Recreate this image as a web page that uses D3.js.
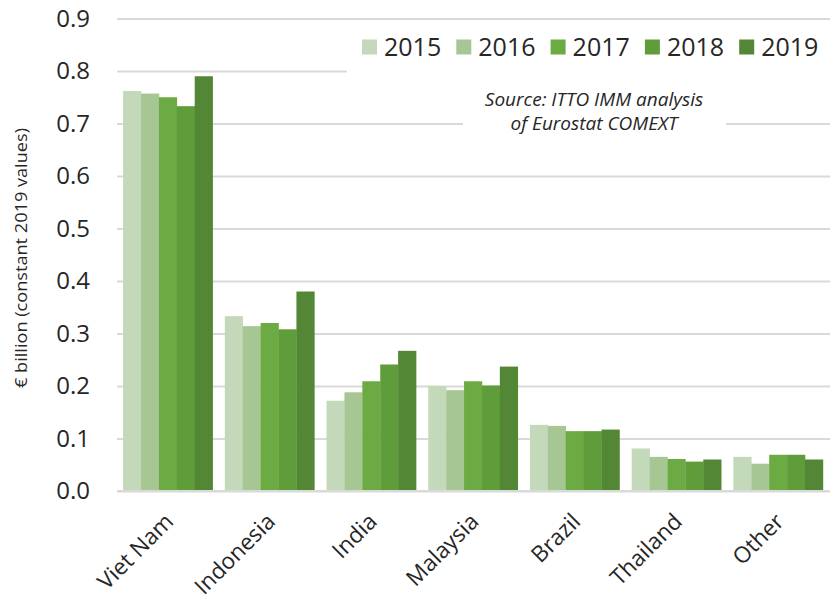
<!DOCTYPE html>
<html>
<head>
<meta charset="utf-8">
<script src="https://cdn.jsdelivr.net/npm/d3@7"></script>
<style>
  html, body { margin: 0; padding: 0; background: #fff; }
  svg { display: block; }
</style>
</head>
<body>
<svg id="chart" width="835" height="602"></svg>
<script>
const categories = ["Viet Nam", "Indonesia", "India", "Malaysia", "Brazil", "Thailand", "Other"];
const years = ["2015", "2016", "2017", "2018", "2019"];
const values2015 = [0.762, 0.333, 0.172, 0.200, 0.126, 0.081, 0.065];
const values2016 = [0.757, 0.314, 0.188, 0.192, 0.124, 0.065, 0.052];
const values2017 = [0.750, 0.320, 0.209, 0.209, 0.114, 0.061, 0.069];
const values2018 = [0.733, 0.308, 0.241, 0.201, 0.114, 0.056, 0.069];
const values2019 = [0.790, 0.380, 0.267, 0.237, 0.117, 0.060, 0.060];
const yTicks = [0, 0.1, 0.2, 0.3, 0.4, 0.5, 0.6, 0.7, 0.8, 0.9];
const colors = ["#c4d9ba", "#a6c793", "#6cab43", "#5f9d3b", "#548735"];
const yLabel = "€ billion (constant 2019 values)";
const sourceLines = ["Source: ITTO IMM analysis", "of Eurostat COMEXT"];

(function () {
const series = [values2015, values2016, values2017, values2018, values2019];
const data = categories.map((c, i) => ({ cat: c, vals: years.map((y, j) => ({ year: y, v: series[j][i], j })) }));

const svg = d3.select("#chart");
const pLeft = 117, pRight = 829, pTop = 18.5, pBottom = 491;
const font = "'Open Sans', sans-serif";
const textColor = "#262626";

const x0 = d3.scaleBand().domain(categories).range([pLeft, pRight]).paddingInner(0.12).paddingOuter(0.06);
const x1 = d3.scaleBand().domain(years).range([0, x0.bandwidth()]).padding(0);
const y = d3.scaleLinear().domain([0, 0.9]).range([pBottom, pTop]);

// gridlines
const yAxis = d3.axisLeft(y).tickValues(yTicks).tickSize(-(pRight - pLeft + 1)).tickFormat(d3.format(".1f"));
const gAxis = svg.append("g").attr("transform", `translate(${pLeft},0)`).call(yAxis);
gAxis.select(".domain").remove();
gAxis.selectAll(".tick line").attr("stroke", "#d9d9d9").attr("stroke-width", 2);
gAxis.selectAll(".tick text")
  .attr("x", -27).attr("font-family", font).attr("font-size", 24).attr("fill", textColor);

// bars
const groups = svg.append("g").selectAll("g").data(data).join("g")
  .attr("transform", d => `translate(${x0(d.cat)},0)`);
groups.selectAll("rect").data(d => d.vals).join("rect")
  .attr("x", d => x1(d.year))
  .attr("width", x1.bandwidth() + 0.3)
  .attr("y", d => y(d.v))
  .attr("height", d => y(0) - y(d.v))
  .attr("fill", d => colors[d.j]);

// baseline
svg.append("line").attr("x1", pLeft).attr("x2", pRight).attr("y1", y(0)).attr("y2", y(0))
  .attr("stroke", "#d9d9d9").attr("stroke-width", 2);

// x labels
const xAxis = d3.axisBottom(x0).tickSize(0);
const gx = svg.append("g").attr("transform", `translate(0,${pBottom})`).call(xAxis);
gx.select(".domain").remove();
gx.selectAll(".tick text")
  .attr("font-family", font).attr("font-size", 22.5).attr("fill", textColor)
  .attr("text-anchor", "end").attr("dy", 0).attr("y", 0)
  .attr("transform", "translate(7,32) rotate(-45)");

// y label
svg.append("text")
  .attr("transform", `translate(27,258) rotate(-90)`)
  .attr("text-anchor", "middle")
  .attr("font-family", font).attr("font-size", 16).attr("fill", textColor)
  .attr("textLength", 260).attr("lengthAdjust", "spacingAndGlyphs")
  .text(yLabel);

// legend (white box behind)
svg.append("rect").attr("x", 347).attr("y", 26).attr("width", 488).attr("height", 48).attr("fill", "#fff");
const lg = svg.append("g").selectAll("g").data(years).join("g")
  .attr("transform", (d, i) => `translate(${362 + i * 94.3},47)`);
lg.append("rect").attr("x", 0).attr("y", -7.5).attr("width", 15).attr("height", 15)
  .attr("fill", (d, i) => colors[i]);
lg.append("text").attr("x", 22).attr("y", 9).attr("font-family", font).attr("font-size", 25)
  .attr("fill", textColor).text(d => d);

// source note
svg.append("rect").attr("x", 463).attr("y", 85).attr("width", 263).attr("height", 52).attr("fill", "#fff");
svg.append("g").selectAll("text").data(sourceLines).join("text")
  .attr("x", 594).attr("y", (d, i) => 106 + i * 24)
  .attr("text-anchor", "middle").attr("font-family", font).attr("font-style", "italic")
  .attr("font-size", 19).attr("fill", textColor).text(d => d);
})();
</script>
</body>
</html>
